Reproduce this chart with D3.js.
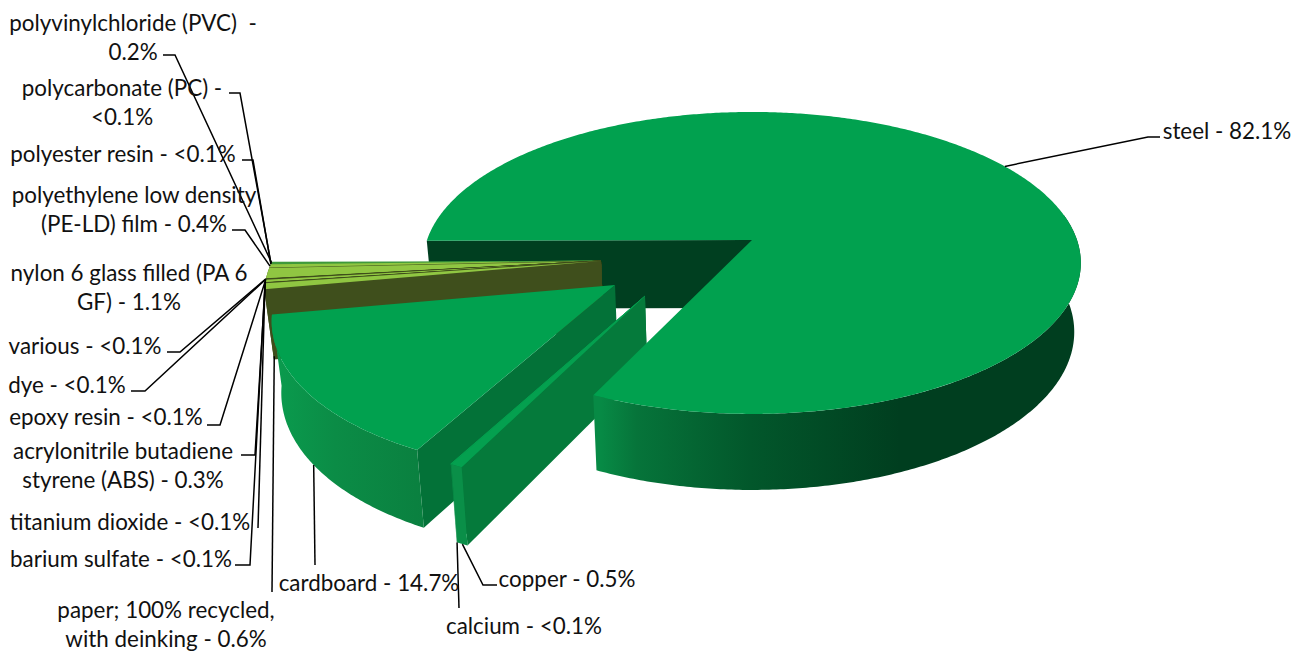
<!DOCTYPE html>
<html>
<head>
<meta charset="utf-8">
<script src="https://cdn.jsdelivr.net/npm/d3@7"></script>
<style>
  html, body { margin: 0; background: #fff; }
  text { font-family: Lato, "Open Sans", sans-serif; font-size: 22.4px; fill: #111; }
</style>
</head>
<body>
<svg id="chart" width="1298" height="651"></svg>
<script>
// materials, in pie order (clockwise, starting at 9 o'clock)
const categories = ["steel", "copper", "calcium", "cardboard", "paper", "barium sulfate", "titanium dioxide",
  "ABS", "epoxy resin", "dye", "various", "nylon 6 GF", "PE-LD film", "polyester resin", "PC", "PVC"];
const values = [82.1, 0.5, 0.03, 14.7, 0.6, 0.03, 0.03, 0.3, 0.03, 0.03, 0.03, 1.1, 0.4, 0.03, 0.03, 0.2];
const labelLines = [
  ["steel - 82.1%"], ["copper - 0.5%"], ["calcium - <0.1%"], ["cardboard - 14.7%"],
  ["paper; 100% recycled,", "with deinking - 0.6%"], ["barium sulfate - <0.1%"], ["titanium dioxide - <0.1%"],
  ["acrylonitrile butadiene", "styrene (ABS) - 0.3%"], ["epoxy resin - <0.1%"], ["dye - <0.1%"], ["various - <0.1%"],
  ["nylon 6 glass filled (PA 6", "GF) - 1.1%"], ["polyethylene low density", "(PE-LD) film - 0.4%"],
  ["polyester resin - <0.1%"], ["polycarbonate (PC) -", "<0.1%"], ["polyvinylchloride (PVC)  -", "0.2%"]
];

// layout of the exploded slices, kept away from the data
const apexAt = [[752,240],[645,296],[645,296],[615,285],[601,261],[601,261],[601,261],[601,261],[601,261],[601,261],[601,261],[601,261],[601,261],[601,261],[601,261],[601,261]];
const radiusOf = [1,.98,.98,.985,.99,.99,.99,.99,.99,.99,.99,.99,.99,.99,.99,.99];
const labelAt = [[1227,130],[567,578],[524,625],[369,582],[166,609],[121,558],[130,521],[123,450],[106,416],[67,384],[85,345],[129,272],[134,194],[123,153],[122,87],[133,22]];
const leaderStart = [[1160,137],[497,585],[459,608],[315,565],[272,592],[235,565],[258,528],[241,455],[207,425],[131,391],[167,352],null,[232,230],[242,160],[229,93],[163,55]];
const leaderKnee = [[1148,137],[483,585],null,null,null,[250,565],null,[255,455],[220,425],[145,391],[180,352],null,[245,230],[253,160],[240,93],[175,55]];
const leaderToBottom = [false,true,true,true,true,false,false,false,false,false,false,false,false,false,false,false];

// colours
const olive = "#3f4f1c";
const topColor = ["#01a14f","#04a04f","#04a04f","#01a14f","#90c642",olive,olive,"#90c642",olive,olive,olive,"#90c642","#90c642","#3f9a3c","#3f9a3c","#3f9a3c"];
const wallColor = ["#003f20","#057a3b","#057a3b","#037238",olive,olive,olive,olive,olive,olive,olive,olive,olive,olive,olive,olive];

const svg = d3.select("#chart");
const cx = 752, cy = 240, rx = 325, ry = 147.5, k = 0.152, depth = 68;

const sx = d3.scaleLinear().domain([-1, 1]).range([cx - rx, cx + rx]);
const sy = d3.scaleLinear().domain([-1, 1]).range([cy - ry, cy + ry]);
function project(u, v) {
  const d = 1 - k * v;
  return [sx(u / d), sy(v / d)];
}
function lowered(p) {
  return [cx + (p[0] - cx) * 0.98, p[1] + depth + 0.046 * (p[1] - cy)];
}
// apex in pie units, from its place on the screen
const origin = apexAt.map(p => {
  const Y = sy.invert(p[1]);
  const v = Y / (1 + k * Y);
  return [sx.invert(p[0]) * (1 - k * v), v];
});

const turn = Math.PI * (1.5 - 0.25 / 180);
const pie = d3.pie().sort(null).startAngle(turn).endAngle(turn + Math.PI * 2);
const arcs = pie(values);

function rimPoint(i, a) {
  return project(origin[i][0] + radiusOf[i] * Math.sin(a), origin[i][1] - radiusOf[i] * Math.cos(a));
}
function rimPoints(i, a0, a1) {
  const n = Math.max(2, Math.ceil((a1 - a0) / 0.01));
  return d3.range(n + 1).map(j => rimPoint(i, a0 + (a1 - a0) * j / n));
}
const apex = i => project(origin[i][0], origin[i][1]);
const line = d3.line().curve(d3.curveLinear);
const closed = pts => line(pts) + "Z";

const defs = svg.append("defs");
function rimGradient(id, x1, x2, stops) {
  const g = defs.append("linearGradient").attr("id", id).attr("gradientUnits", "userSpaceOnUse")
    .attr("x1", x1).attr("x2", x2).attr("y1", 0).attr("y2", 0);
  stops.forEach(s => g.append("stop").attr("offset", s[0]).attr("stop-color", s[1]));
}
rimGradient("rim0", 601, 900, [[0, "#078a45"], [0.12, "#06743a"], [0.5, "#02572b"], [1, "#003e1f"]]);
rimGradient("rim3", 272, 430, [[0, "#0a9c4e"], [0.4, "#0b8c46"], [1, "#0a7f3f"]]);

function drawRim(i) {
  // only the front of the steel rim can be seen
  const lo = i === 0 ? Math.PI * 2 + 80 * Math.PI / 180 : arcs[i].startAngle;
  const rim = rimPoints(i, lo, arcs[i].endAngle);
  const fill = i === 0 ? "url(#rim0)" : i === 3 ? "url(#rim3)" : (i < 3 ? "#0a8f48" : wallColor[i]);
  svg.append("path").attr("d", closed(rim.concat(rim.map(lowered).reverse()))).attr("fill", fill);
}
function drawWall(i, a) {
  const p = apex(i), q = rimPoint(i, a);
  svg.append("path").attr("d", closed([p, q, lowered(q), lowered(p)])).attr("fill", wallColor[i]);
}
function drawTop(i) {
  const pts = [apex(i)].concat(rimPoints(i, arcs[i].startAngle, arcs[i].endAngle));
  svg.append("path").attr("d", closed(pts)).attr("fill", topColor[i])
    .attr("stroke", values[i] < 0.1 ? topColor[i] : "none").attr("stroke-width", 0.9);
  // PE-LD meets nylon along a dark seam
  if (categories[i] === "PE-LD film") {
    svg.append("path").attr("d", line([apex(i), rimPoint(i, arcs[i].startAngle)]))
      .attr("fill", "none").attr("stroke", olive).attr("stroke-width", 0.9);
  }
}

// back to front: steel's cut wall, the loose slices, then the steel body over them
drawWall(0, arcs[0].startAngle);
d3.range(categories.length - 1, 0, -1).forEach(i => {
  drawWall(i, arcs[i].startAngle);
  drawRim(i);
  drawTop(i);
});
drawRim(0);
drawTop(0);

// leader lines end on the slice rim at its middle angle
categories.forEach((c, i) => {
  if (!leaderStart[i]) return;
  const mid = (arcs[i].startAngle + arcs[i].endAngle) / 2;
  let end = rimPoint(i, mid);
  if (leaderToBottom[i]) end = lowered(end);
  const pts = [leaderStart[i]];
  if (leaderKnee[i]) pts.push(leaderKnee[i]);
  pts.push(end);
  svg.append("path").attr("d", line(pts)).attr("fill", "none").attr("stroke", "#000").attr("stroke-width", 1.5);
});

// labels
const lineGap = 29;
labelLines.forEach((lines, i) => {
  const t = svg.append("text").attr("text-anchor", "middle").attr("dominant-baseline", "central");
  lines.forEach((s, j) => {
    t.append("tspan").attr("x", labelAt[i][0]).attr("y", labelAt[i][1] + j * lineGap).attr("xml:space", "preserve").text(s);
  });
});
</script>
</body>
</html>
